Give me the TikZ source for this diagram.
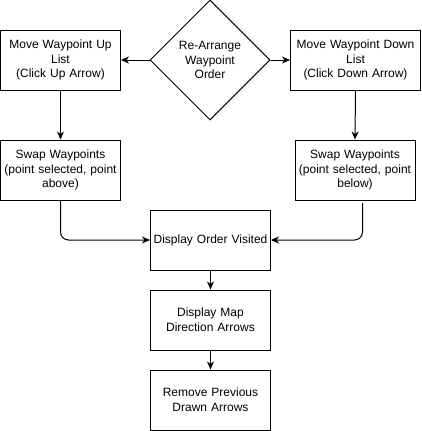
\documentclass[tikz,border=0pt]{standalone}
\usepackage{fontspec}
\setmainfont{Liberation Sans}
\usetikzlibrary{shapes.geometric,arrows.meta}
\begin{document}
\begin{tikzpicture}[x=1pt,y=-1pt,
  every node/.style={font=\fontsize{12}{14.6}\selectfont, align=center, inner sep=1pt},
  box/.style={draw, line width=1pt, minimum width=120pt, minimum height=60pt, text width=116pt},
  choice/.style={draw, diamond, line width=1pt, minimum width=120pt, minimum height=120pt, inner sep=0pt, aspect=1},
  flow/.style={draw, line width=1pt, -{Stealth[length=8pt,width=7pt,inset=2.5pt]}},
  curved/.style={flow, rounded corners=8pt}]
\useasboundingbox (0,0) rectangle (421,431);
\node[choice] (arr) at (210,60) {Re-Arrange\\Waypoint\\Order};
\node[box] (up) at (60.5,60) {Move Waypoint Up\\List\\(Click Up Arrow)};
\node[box, minimum width=130pt, text width=128pt] (down) at (355.5,60) {Move Waypoint Down\\List\\(Click Down Arrow)};
\node[box] (swapup) at (60.5,170) {Swap Waypoints\\(point selected, point\\above)};
\node[box] (swapdown) at (355,170) {Swap Waypoints\\(point selected, point\\below)};
\node[box] (order) at (210.5,240) {Display Order Visited};
\node[box] (map) at (210.5,320) {Display Map\\Direction Arrows};
\node[box] (remove) at (210.5,400) {Remove Previous\\Drawn Arrows};
\coordinate (rstart) at (362.5,203);
\draw[flow] (arr.west) -- (up.east);
\draw[flow] (arr.east) -- (down.west);
\draw[flow] (up.south) -- (swapup.north);
\draw[flow] (down.south) -- (swapdown.north);
\draw[curved] (swapup.south) |- (order.west);
\draw[curved] (rstart) |- (order.east);
\draw[flow] (order.south) -- (map.north);
\draw[flow] (map.south) -- (remove.north);
\end{tikzpicture}
\end{document}
